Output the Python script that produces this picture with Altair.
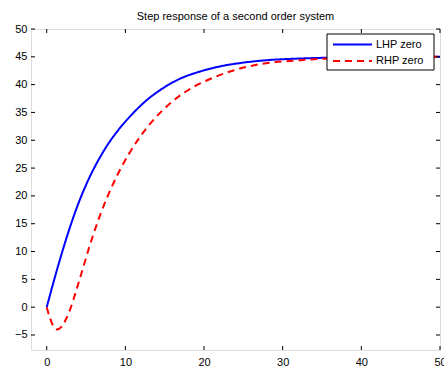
import altair as alt
import pandas as pd

# LHP zero response
t_lhp = [0, 1.3, 2.55, 3.8, 5.1, 6.4, 7.7, 9.3, 11.0, 12.7, 14.5, 17.0, 19.6, 22.1, 24.7,
         27.2, 32.3, 36, 40, 45, 50]
y_lhp = [0, 6.7, 12.6, 17.8, 22.3, 26.0, 29.1, 32.2, 34.9, 37.2, 39.1, 41.1, 42.4, 43.3, 43.9,
         44.3, 44.7, 44.85, 44.95, 45.0, 45.0]

# RHP zero response
t_rhp = [0, 0.4, 0.8, 1.3, 1.9, 2.5, 3.0, 3.6, 4.25, 5.5, 6.8, 8.1, 9.4, 10.6, 12.0,
         13.6, 16.0, 18.3, 20.9, 23.4, 27.2, 32.3, 36, 40, 45, 50]
y_rhp = [0, -1.9, -3.3, -4.0, -3.5, -2.0, -0.3, 2.3, 5.3, 11.2, 16.6, 21.1, 24.9, 27.9, 30.9,
         33.7, 37.0, 39.3, 41.1, 42.4, 43.7, 44.4, 44.7, 44.85, 44.95, 45.0]

series = ["LHP zero", "RHP zero"]
colors = ["#0000ff", "#ff0000"]
dashes = [[1, 0], [7, 5]]

x_ticks = [0, 10, 20, 30, 40, 50]
y_ticks = [-5, 0, 5, 10, 15, 20, 25, 30, 35, 40, 45, 50]
x_domain = [-2, 50]
y_domain = [-7.7, 50]

W, H = 409, 321
FONT = "Liberation Sans"

df = pd.concat([
    pd.DataFrame({"t": t_lhp, "y": y_lhp, "s": series[0]}),
    pd.DataFrame({"t": t_rhp, "y": y_rhp, "s": series[1]}),
])

xs = alt.Scale(domain=x_domain, nice=False, zero=False)
ys = alt.Scale(domain=y_domain, nice=False, zero=False)
ax_x = alt.Axis(values=x_ticks, title=None, ticks=False, domain=False, grid=False,
                labelPadding=6, labelFontSize=11, labelFont=FONT, labelColor="black",
                labelFlush=False, labelOverlap=False)
ax_y = alt.Axis(values=y_ticks, title=None, ticks=False, domain=False, grid=False,
                labelPadding=4, labelFontSize=11, labelFont=FONT, labelColor="black",
                labelFlush=False, labelOverlap=False)

lines = alt.Chart(df).mark_line(strokeWidth=2, interpolate="monotone", clip=True).encode(
    x=alt.X("t:Q", scale=xs, axis=ax_x),
    y=alt.Y("y:Q", scale=ys, axis=ax_y),
    color=alt.Color("s:N", scale=alt.Scale(domain=series, range=colors), legend=None),
    strokeDash=alt.StrokeDash("s:N", scale=alt.Scale(domain=series, range=dashes), legend=None),
)

xt = pd.DataFrame({"t": x_ticks})
yt = pd.DataFrame({"y": y_ticks})

xb = alt.Chart(xt).mark_rule(color="black", strokeWidth=1).encode(
    x=alt.X("t:Q", scale=xs, axis=ax_x), y=alt.value(H), y2=alt.value(H - 4))
xtop = alt.Chart(xt).mark_rule(color="black", strokeWidth=1).encode(
    x=alt.X("t:Q", scale=xs, axis=ax_x), y=alt.value(0), y2=alt.value(4))
yl = alt.Chart(yt).mark_rule(color="black", strokeWidth=1).encode(
    y=alt.Y("y:Q", scale=ys, axis=ax_y), x=alt.value(0), x2=alt.value(4))
yr = alt.Chart(yt).mark_rule(color="black", strokeWidth=1).encode(
    y=alt.Y("y:Q", scale=ys, axis=ax_y), x=alt.value(W), x2=alt.value(W - 4))

# manual legend box (MATLAB style)
one = pd.DataFrame({"a": [0]})
box = alt.Chart(one).mark_rect(fill="white", stroke="black", strokeWidth=1).encode(
    x=alt.value(296), x2=alt.value(403), y=alt.value(5), y2=alt.value(41))
leg_layers = [box]
row_y = [15.5, 32]
for i, name in enumerate(series):
    leg_layers.append(alt.Chart(one).mark_rule(strokeWidth=2, color=colors[i],
                                               strokeDash=dashes[i]).encode(
        x=alt.value(302), x2=alt.value(341), y=alt.value(row_y[i])))
    leg_layers.append(alt.Chart(one).mark_text(text=name, align="left", baseline="middle",
                                               fontSize=11, font=FONT, color="black").encode(
        x=alt.value(345), y=alt.value(row_y[i])))

chart = alt.layer(lines, xb, xtop, yl, yr, *leg_layers).properties(
    width=W, height=H,
    autosize=alt.AutoSizeParams(type="none"),
    padding={"left": 31, "top": 29, "right": 4, "bottom": 20},
    title=alt.TitleParams("Step response of a second order system", fontSize=11,
                          fontWeight="normal", font=FONT, color="black",
                          baseline="alphabetic", offset=0, dy=8, anchor="middle", frame="group"),
).configure_view(stroke="black", strokeWidth=1).configure(background="white")

chart.save("out.html", embed_options={"renderer": "svg", "actions": False})
